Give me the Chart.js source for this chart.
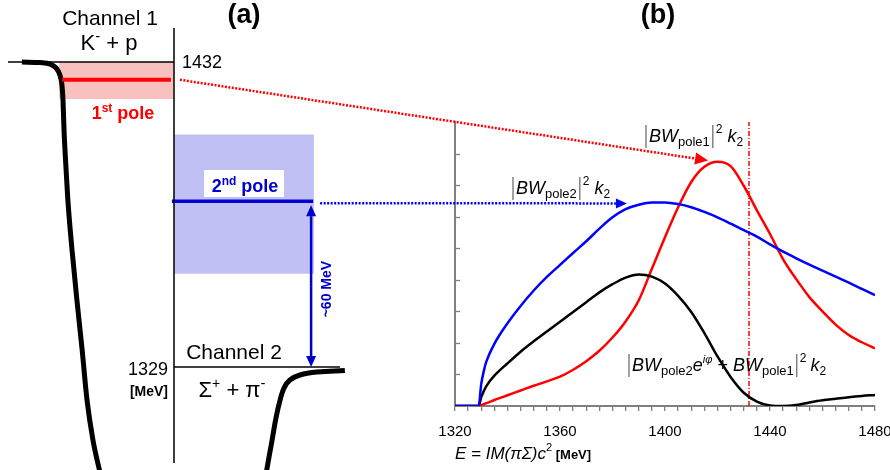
<!DOCTYPE html>
<html><head><meta charset="utf-8">
<script src="https://cdn.jsdelivr.net/npm/chart.js@4"></script>
<style>
html,body{margin:0;padding:0;background:#fff;}
#wrap{position:relative;width:890px;height:470px;background:#fff;}
canvas{position:absolute;left:0;top:0;}
</style></head><body>
<div id="wrap"><canvas id="left" width="890" height="470"></canvas><canvas id="right" width="890" height="470"></canvas></div>
<script>
// ---------------- DATA ----------------
// (b) spectra vs invariant mass E = IM(piSigma) c^2 [MeV]
const energies   = [1320,1329,1330,1331,1332,1335,1340,1345,1350,1355,1360,1365,1370,1375,1380,1385,1390,1395,1400,1405,1410,1415,1420,1425,1430,1435,1440,1445,1450,1455,1460,1465,1470,1475,1480];
const pole2Curve = [0,0,0.70,1.12,1.42,1.97,2.62,3.17,3.66,4.09,4.47,4.85,5.22,5.62,5.98,6.24,6.38,6.45,6.45,6.40,6.30,6.15,5.98,5.78,5.57,5.37,5.12,4.89,4.68,4.48,4.29,4.10,3.91,3.71,3.51];
const sumCurve   = [0,0,0.28,0.48,0.64,0.96,1.35,1.72,2.05,2.36,2.67,2.98,3.29,3.60,3.86,4.07,4.17,4.10,3.88,3.49,2.98,2.31,1.57,0.92,0.42,0.14,0.02,0.00,0.03,0.11,0.18,0.23,0.28,0.32,0.35];
const pole1Curve = [0,0,0.03,0.06,0.09,0.19,0.34,0.49,0.64,0.78,0.93,1.15,1.42,1.75,2.17,2.68,3.35,4.35,5.35,6.30,7.10,7.58,7.74,7.60,6.98,6.20,5.45,4.65,4.02,3.45,3.00,2.58,2.25,2.02,1.83];
const xTickLabels = [1320,1360,1400,1440,1480];
const kpThreshold = 1432;      // K- + p  [MeV]
const spiThreshold = 1329;     // Sigma+ + pi-  [MeV]

// (a) level scheme (energy in MeV, r in arbitrary units)
const pole1 = 1426, pole1Band = [1419.5, 1432];
const pole2 = 1385, pole2Band = [1360.5, 1407.5];
const potLeftR  = [0.63,1.15,1.44,1.61,1.72,1.78,1.81,1.84,1.90,1.95,2.07,2.21,2.36,2.50,2.67,2.90];
const potLeftE  = [1432,1431.8,1431.3,1430.0,1427.6,1424.2,1419.2,1409.0,1395.5,1385.4,1368.5,1351.6,1334.8,1317.9,1304.4,1292.0];
const potRightR = [7.64,7.70,7.82,7.93,8.05,8.16,8.33,8.62,9.11,9.91];
const potRightE = [1292.5,1296.6,1304.4,1311.8,1317.9,1321.9,1324.6,1326.3,1327.3,1327.8];
const axisR = 5;

// ---------------- HELPERS ----------------
const SANS = '"Liberation Sans", Arial, Helvetica, sans-serif';
function pts(xs, ys){ return xs.map((x,i)=>({x, y: ys[i]})); }
function rich(ctx, x, y, parts, align){
  let w = 0;
  parts.forEach(p=>{
    if (p.bar) { p.w = p.w || 6; }
    else if (p.gap) { p.w = p.gap; }
    else { ctx.font = p.f + ' ' + SANS; p.w = ctx.measureText(p.t).width; }
    w += p.w;
  });
  let cx = align==='center' ? x - w/2 : (align==='right' ? x - w : x);
  ctx.textBaseline = 'alphabetic'; ctx.textAlign = 'left';
  parts.forEach(p=>{
    if (p.bar) {
      ctx.save(); ctx.strokeStyle = '#707070'; ctx.lineWidth = 1.3;
      ctx.beginPath(); ctx.moveTo(cx + p.w/2, y - 17); ctx.lineTo(cx + p.w/2, y + 6); ctx.stroke(); ctx.restore();
    } else if (!p.gap) {
      ctx.font = p.f + ' ' + SANS; ctx.fillStyle = p.c || '#000';
      ctx.fillText(p.t, cx, y + (p.dy||0));
    }
    cx += p.w;
  });
  return w;
}
function arrow(ctx, x1,y1,x2,y2,color,dash,width,headLen,headW){
  const a = Math.atan2(y2-y1, x2-x1);
  const bx = x2 - headLen*Math.cos(a), by = y2 - headLen*Math.sin(a);
  ctx.save(); ctx.strokeStyle = color; ctx.lineWidth = width; ctx.setLineDash(dash);
  ctx.beginPath(); ctx.moveTo(x1,y1); ctx.lineTo(bx,by); ctx.stroke();
  ctx.setLineDash([]); ctx.fillStyle = color;
  ctx.beginPath(); ctx.moveTo(x2,y2);
  ctx.lineTo(bx + headW*Math.sin(a), by - headW*Math.cos(a));
  ctx.lineTo(bx - headW*Math.sin(a), by + headW*Math.cos(a));
  ctx.closePath(); ctx.fill(); ctx.restore();
}

// ---------------- LEFT PANEL (a) ----------------
const leftDeco = {
  id: 'leftDeco',
  beforeDatasetsDraw(chart){
    const {ctx} = chart, xs = chart.scales.x, ys = chart.scales.y;
    ctx.save();
    ctx.fillStyle = '#f9c0c0';
    let x1 = xs.getPixelForValue(1.70), x2 = xs.getPixelForValue(axisR);
    let y1 = ys.getPixelForValue(pole1Band[1]), y2 = ys.getPixelForValue(pole1Band[0]);
    ctx.fillRect(x1, y1, x2-x1, y2-y1);
    ctx.fillStyle = '#c0c0f5';
    x1 = xs.getPixelForValue(axisR); x2 = xs.getPixelForValue(9.02);
    y1 = ys.getPixelForValue(pole2Band[1]); y2 = ys.getPixelForValue(pole2Band[0]);
    ctx.fillRect(x1, y1, x2-x1, y2-y1);
    ctx.restore();
  },
  afterDatasetsDraw(chart){
    const {ctx} = chart, xs = chart.scales.x, ys = chart.scales.y;
    ctx.save();
    const yK = ys.getPixelForValue(kpThreshold), yS = ys.getPixelForValue(spiThreshold);
    rich(ctx, 110, 25, [{t:'Channel 1', f:'21px'}], 'center');
    rich(ctx, 109, 50, [{t:'K', f:'22px'},{t:'-', f:'15px', dy:-9},{t:' + p', f:'22px'}], 'center');
    rich(ctx, 244, 23, [{t:'(a)', f:'bold 27px'}], 'center');
    rich(ctx, 182, yK + 6, [{t:String(kpThreshold), f:'18px'}], 'left');
    rich(ctx, 123, 119, [{t:'1', f:'bold 18px', c:'#ff0000'},{t:'st', f:'bold 12px', dy:-7, c:'#ff0000'},{t:' pole', f:'bold 18px', c:'#ff0000'}], 'center');
    ctx.fillStyle = '#fff'; ctx.fillRect(204, 170, 80, 27);
    rich(ctx, 245, 192, [{t:'2', f:'bold 18px', c:'#0000cc'},{t:'nd', f:'bold 12px', dy:-7, c:'#0000cc'},{t:' pole', f:'bold 18px', c:'#0000cc'}], 'center');
    const xa = xs.getPixelForValue(8.94);
    const ytop = ys.getPixelForValue(pole2) + 4;
    arrow(ctx, xa, (ytop+yS)/2, xa, ytop, '#0000cc', [], 2.5, 11, 5);
    arrow(ctx, xa, (ytop+yS)/2, xa, yS, '#0000cc', [], 2.5, 11, 5);
    ctx.save(); ctx.translate(xa + 15, (ytop+yS)/2 + 3); ctx.rotate(-Math.PI/2);
    rich(ctx, 0, 5, [{t:'~60 MeV', f:'bold 14px', c:'#0000cc'}], 'center');
    ctx.restore();
    rich(ctx, 234, yS - 8, [{t:'Channel 2', f:'21px'}], 'center');
    rich(ctx, 168, yS + 8, [{t:String(spiThreshold), f:'18px'}], 'right');
    rich(ctx, 168, 396, [{t:'[MeV]', f:'bold 14px'}], 'right');
    rich(ctx, 232, 397, [{t:'\u03A3', f:'22px'},{t:'+', f:'14px', dy:-9},{t:' + \u03C0', f:'22px'},{t:'-', f:'15px', dy:-9}], 'center');
    ctx.restore();
  }
};

const leftChart = new Chart(document.getElementById('left'), {
  type: 'line',
  data: { datasets: [
    {data: pts([0.23, axisR], [kpThreshold, kpThreshold]), borderColor:'#000', borderWidth:1.5},
    {data: pts([axisR, 9.77], [spiThreshold, spiThreshold]), borderColor:'#000', borderWidth:1.5},
    {data: pts([axisR, axisR], [1443.5, 1296.6]), borderColor:'#000', borderWidth:1.5},
    {data: pts([1.78, 4.91], [pole1, pole1]), borderColor:'#ff0000', borderWidth:4},
    {data: pts([4.94, 9.0], [pole2, pole2]), borderColor:'#0000cc', borderWidth:3.5},
    {data: pts(potLeftR, potLeftE), borderColor:'#000', borderWidth:5, cubicInterpolationMode:'monotone'},
    {data: pts(potRightR, potRightE), borderColor:'#000', borderWidth:5, tension:0.4}
  ]},
  options: {
    responsive:false, animation:false, events:[],
    layout:{padding:{left:0, top:0, right:542, bottom:0}},
    elements:{point:{radius:0}, line:{fill:false, borderCapStyle:'butt'}},
    plugins:{legend:{display:false}, tooltip:{enabled:false}},
    scales:{
      x:{type:'linear', min:0, max:10, display:false},
      y:{type:'linear', min:1294.22, max:1452.94, display:false}
    }
  },
  plugins:[leftDeco]
});

// ---------------- RIGHT PANEL (b) ----------------
const rightDeco = {
  id:'rightDeco',
  afterDatasetsDraw(chart){
    const {ctx} = chart, xs = chart.scales.x, ys = chart.scales.y;
    ctx.save();
    ctx.strokeStyle = '#808080'; ctx.lineWidth = 1.3;
    ys.ticks.forEach(t=>{
      if (t.value === 0 || t.value === 9) return;
      const py = Math.round(ys.getPixelForValue(t.value)) + 0.5;
      ctx.beginPath(); ctx.moveTo(chart.chartArea.left, py); ctx.lineTo(chart.chartArea.left + 5, py); ctx.stroke();
    });
    const lx = leftChart.scales.x, ly = leftChart.scales.y;
    arrow(ctx, lx.getPixelForValue(5.17), ly.getPixelForValue(pole1), xs.getPixelForValue(1416.4), ys.getPixelForValue(7.78), '#ff0000', [2,1.5], 2.5, 13, 6);
    arrow(ctx, lx.getPixelForValue(9.2), ly.getPixelForValue(pole2) + 2, xs.getPixelForValue(1385.5), ys.getPixelForValue(6.42), '#0000ff', [2,1.5], 2.5, 11, 5);
    rich(ctx, 658, 23, [{t:'(b)', f:'bold 27px'}], 'center');
    rich(ctx, 643, 142, [{bar:1},{t:'BW', f:'italic 18px'},{t:'pole1', f:'13px', dy:4},{bar:1},{t:'2', f:'12px', dy:-9},{gap:5},{t:'k', f:'italic 18px'},{t:'2', f:'12px', dy:4}], 'left');
    rich(ctx, 510, 194, [{bar:1},{t:'BW', f:'italic 18px'},{t:'pole2', f:'13px', dy:4},{bar:1},{t:'2', f:'12px', dy:-9},{gap:5},{t:'k', f:'italic 18px'},{t:'2', f:'12px', dy:4}], 'left');
    rich(ctx, 626, 371, [{bar:1},{t:'BW', f:'italic 18px'},{t:'pole2', f:'13px', dy:4},{t:'e', f:'italic 18px'},{t:'i\u03C6', f:'italic 11px', dy:-8},{t:' + ', f:'18px'},{t:'BW', f:'italic 18px'},{t:'pole1', f:'13px', dy:4},{bar:1},{t:'2', f:'12px', dy:-9},{gap:4},{t:'k', f:'italic 18px'},{t:'2', f:'12px', dy:4}], 'left');
    rich(ctx, 455, 459, [{t:'E = IM(\u03C0\u03A3)c', f:'italic 17px'},{t:'2', f:'11px', dy:-8},{t:' [MeV]', f:'bold 13px'}], 'left');
    ctx.restore();
  }
};

const rightChart = new Chart(document.getElementById('right'), {
  type:'line',
  data:{ datasets:[
    {data: pts(energies, pole2Curve), borderColor:'#0000ff', borderWidth:2.5, cubicInterpolationMode:'monotone'},
    {data: pts(energies, sumCurve), borderColor:'#000', borderWidth:2.5, cubicInterpolationMode:'monotone'},
    {data: pts(energies, pole1Curve), borderColor:'#ff0000', borderWidth:2.5, cubicInterpolationMode:'monotone'},
    {data: pts([kpThreshold, kpThreshold], [0, 9]), borderColor:'#ff0000', borderWidth:1.5, borderDash:[5,2,1,2]}
  ]},
  options:{
    responsive:false, animation:false, events:[],
    layout:{padding:{left:455, right:15, top:122, bottom:0}},
    elements:{point:{radius:0}, line:{fill:false}},
    plugins:{legend:{display:false}, tooltip:{enabled:false}},
    scales:{
      x:{type:'linear', min:1320, max:1480,
         ticks:{stepSize:5, autoSkip:false, maxRotation:0, minRotation:0, padding:12, color:'#000',
                font:{family:SANS, size:15},
                callback:(v)=> xTickLabels.includes(v) ? String(v) : ''},
         grid:{display:true, drawOnChartArea:false, drawTicks:true, tickLength:5, color:'#808080', lineWidth:1.3},
         border:{display:true, color:'#808080', width:2},
         afterFit(s){ s.height = 64; s.paddingLeft = 0; s.paddingRight = 0; }
      },
      y:{type:'linear', min:0, max:9,
         ticks:{display:false, stepSize:1},
         grid:{display:true, drawOnChartArea:false, drawTicks:false, color:'#808080'},
         border:{display:true, color:'#808080', width:2},
         afterFit(s){ s.width = 0; }
      }
    }
  },
  plugins:[rightDeco]
});
</script>
</body></html>
